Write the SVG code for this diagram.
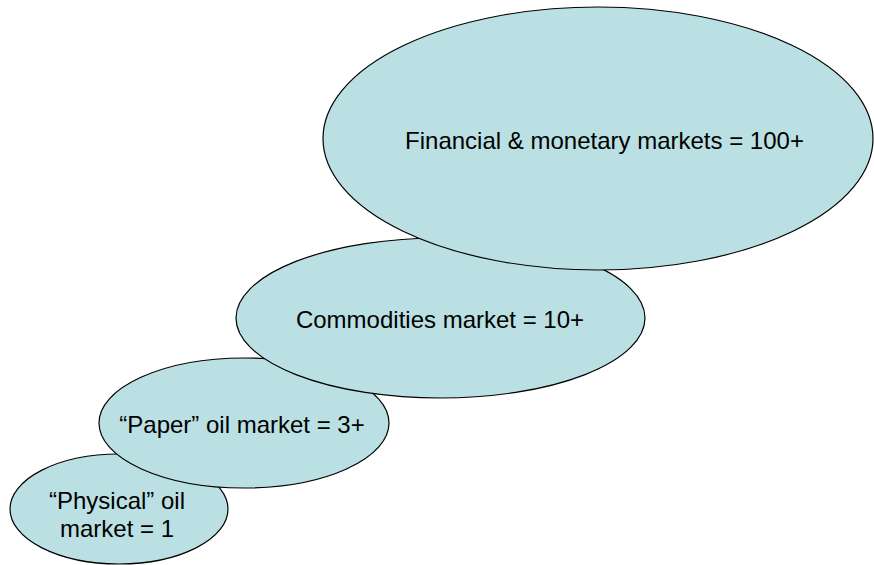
<svg xmlns="http://www.w3.org/2000/svg" width="874" height="565" viewBox="0 0 874 565">
<style>
.e{fill:#BAE0E3;stroke:#000;stroke-width:1.2}
.t{font-family:"Liberation Sans",Arial,sans-serif;font-size:24px;fill:#000;text-anchor:middle}
</style>
<rect width="874" height="565" fill="#fff"/>
<g id="physical">
<ellipse class="e" cx="119" cy="509" rx="109" ry="55"/>
<text class="t" x="117" y="509">“Physical” oil</text>
<text class="t" x="117" y="537">market = 1</text>
</g>
<g id="paper">
<ellipse class="e" cx="244" cy="423" rx="145" ry="65"/>
<text class="t" x="242" y="433">“Paper” oil market = 3+</text>
</g>
<g id="commodities">
<ellipse class="e" cx="440.5" cy="318" rx="204.5" ry="80"/>
<text class="t" x="440" y="328">Commodities market = 10+</text>
</g>
<g id="financial">
<ellipse class="e" cx="598" cy="138.5" rx="275" ry="131.5"/>
<text class="t" x="604.5" y="149">Financial &amp; monetary markets = 100+</text>
</g>
<g id="connectors"/>
</svg>
